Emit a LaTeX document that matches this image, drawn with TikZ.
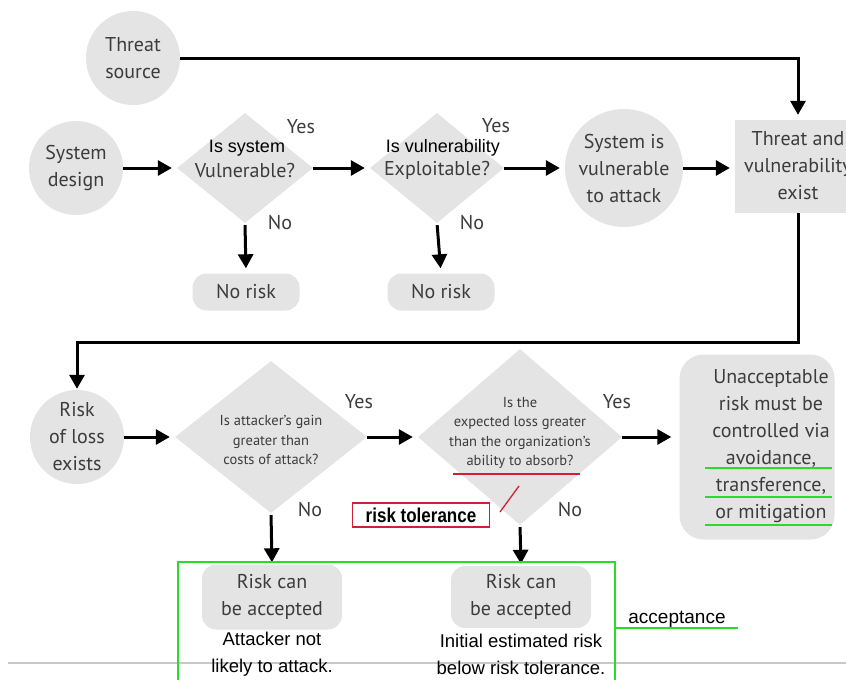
\documentclass[tikz,border=0pt]{standalone}
\usepackage{fontspec}
\setmainfont{PT Sans}
\newfontfamily\arialfont{Liberation Sans}
\newfontfamily\arialnarrow[FakeStretch=0.85]{Liberation Sans}
\usetikzlibrary{arrows.meta,shapes.geometric}
\definecolor{shapefill}{HTML}{E4E4E4}
\definecolor{ink}{HTML}{3C3C3C}
\definecolor{markgreen}{HTML}{2BDB2B}
\definecolor{markred}{HTML}{CC2233}
\definecolor{rulegray}{HTML}{C8C8C8}
\begin{document}
\begin{tikzpicture}[x=1pt,y=-1pt,
  flow/.style={line width=3pt,-{Triangle[length=14pt,width=15pt]},shorten >=5pt},
  bubble/.style={circle,fill=shapefill,inner sep=0pt},
  decision/.style={diamond,fill=shapefill,inner sep=0pt},
  outcome/.style={rectangle,rounded corners=14pt,fill=shapefill,inner sep=0pt},
  plainbox/.style={rectangle,fill=shapefill,inner sep=0pt},
  big/.style={text=ink,align=center,inner sep=0pt,font=\fontsize{20}{27}\selectfont},
  small/.style={text=ink,align=center,inner sep=0pt,font=\fontsize{14.5}{19.5}\selectfont},
  answer/.style={text=ink,inner sep=0pt,font=\fontsize{20}{24}\selectfont},
  note/.style={text=black,align=center,inner sep=0pt,font=\arialfont\fontsize{18.5}{27}\selectfont},
  greenline/.style={draw=markgreen,line width=2.3pt}
]
\useasboundingbox (0,0) rectangle (846,680);

% thin rule across the lower part
\draw[rulegray,line width=1.2pt] (8,663) -- (846,663);

% ---------- first row ----------
\node[bubble,minimum size=94pt] (ts) at (133,58) {};
\node[big] (tst) at (ts) {Threat\\source};

\node[bubble,minimum size=94pt] (sd) at (76,168) {};
\node[big] (sdt) at (sd) {System\\design};

\node[decision,minimum width=136pt,minimum height=110pt] (d1) at (245,168) {};
\node[inner sep=0pt,font=\arialfont\fontsize{18}{18}\selectfont] (d1a) at (247,148) {Is system};
\node[big] (d1b) at (245,170) {Vulnerable?};
\node[answer] (y1) at (301,127) {Yes};
\node[answer] (n1) at (280,223) {No};
\node[outcome,minimum width=107pt,minimum height=37pt] (nr1) at (246,292) {};
\node[big] (nr1t) at (nr1) {No risk};

\node[decision,minimum width=134pt,minimum height=110pt] (d2) at (437,168) {};
\node[inner sep=0pt,font=\arialfont\fontsize{18}{18}\selectfont] (d2a) at (443,148) {Is vulnerability};
\node[big] (d2b) at (437,170) {Exploitable?};
\node[answer] (y2) at (496,126) {Yes};
\node[answer] (n2) at (472,223) {No};
\node[outcome,minimum width=107pt,minimum height=37pt] (nr2) at (441,292) {};
\node[big] (nr2t) at (nr2) {No risk};

\node[bubble,minimum size=118pt] (sv) at (624,168) {};
\node[big] (svt) at (sv) {System is\\vulnerable\\to attack};

\node[plainbox,minimum width=126pt,minimum height=93pt] (tv) at (798,166.5) {};
\node[big] (tvt) at (798,166) {Threat and\\vulnerability\\exist};

\draw[flow] (ts) -| (tv);
\draw[flow] (sd) -- (d1);
\draw[flow] (d1) -- (d2);
\draw[flow] (d2) -- (sv);
\draw[flow] (sv.east) -- (sv.east -| tv.west);
\draw[flow,shorten <=2pt] (d1.south) -- (nr1.north);
\draw[flow,shorten <=2pt] (d2.south) -- (nr2.north);

% ---------- second row ----------
\node[bubble,minimum size=94pt] (rl) at (77,437) {};
\node[big] (rlt) at (rl) {Risk\\of loss\\exists};

\draw[flow,shorten >=1pt] (tv.south) -- ++(0,129) -| (rl.north);

\node[decision,minimum width=192pt,minimum height=152pt] (d3) at (271,437) {};
\node[small] (d3t) at (271,440) {Is attacker's gain\\greater than\\costs of attack?};
\node[answer] (y3) at (359,402) {Yes};
\node[answer] (n3) at (310,510) {No};

\node[decision,minimum width=204pt,minimum height=176pt] (d4) at (520,437) {};
\node[small] (d4t) at (520,433) {Is the\\expected loss greater\\than the organization's\\ability to absorb?};
\node[answer] (y4) at (617,402) {Yes};
\node[answer] (n4) at (570,510) {No};

\node[outcome,rounded corners=24pt,minimum width=155pt,minimum height=185pt] (ua) at (757,447) {};
\node[big] (uat) at (771,446) {Unacceptable\\risk must be\\controlled via\\avoidance,\\transference,\\or mitigation};

\draw[flow] (rl) -- (d3);
\draw[flow] (d3) -- (d4);
\draw[flow,shorten >=8pt] (d4.east) -- (d4.east -| ua.west);

% ---------- acceptance outcomes ----------
\node[outcome,minimum width=140pt,minimum height=65pt] (ac1) at (272,597) {};
\node[big] (ac1t) at (272,597) {Risk can\\be accepted};
\node[note] (ac1n) at (272,654) {Attacker not\\likely to attack.};

\node[outcome,minimum width=140pt,minimum height=62pt] (ac2) at (521,597) {};
\node[big] (ac2t) at (521,597) {Risk can\\be accepted};
\node[note] (ac2n) at (521,654) {Initial estimated risk\\below risk tolerance.};

\draw[flow,shorten <=2pt,shorten >=2pt] (d3.south) -- (ac1.north);
\draw[flow,shorten <=2pt,shorten >=2pt] (d4.south) -- (ac2.north);

% ---------- hand annotations ----------
\node[draw=markred,line width=1.5pt,minimum width=137pt,minimum height=24pt,inner sep=0pt,
      font=\arialnarrow\bfseries\fontsize{20}{20}\selectfont] (rt) at (421,515) {risk tolerance};
\coordinate (ulL) at (453,474);
\coordinate (ulR) at (580,474);
\draw[markred,line width=1.3pt] (ulL) -- (ulR);
\coordinate (slA) at (500,512);
\coordinate (slB) at (519,486);
\draw[markred,line width=1.3pt] (slA) -- (slB);

\foreach \yy [count=\k] in {468,497,525}
  \coordinate (g\k) at (705,\yy);
\draw[greenline] (g1) -- ++(127,0);
\draw[greenline] (g2) -- ++(127,0);
\draw[greenline] (g3) -- ++(127,0);

\coordinate (gbl) at (178,562);
\coordinate (gbr) at (615,700);
\draw[greenline] (gbl) rectangle (gbr);
\coordinate (tagR) at (738,628);
\draw[greenline] (615,628) -- (tagR);
\node[note,font=\arialfont\fontsize{19}{19}\selectfont,anchor=base] (acc) at (677,623) {acceptance};
\end{tikzpicture}
\end{document}
